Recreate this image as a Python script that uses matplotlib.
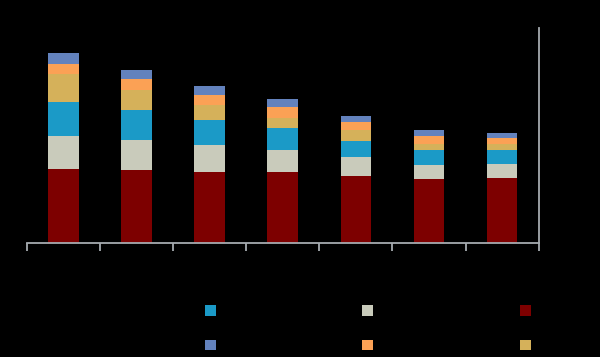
import matplotlib
matplotlib.use("Agg")
import matplotlib.pyplot as plt
from matplotlib.patches import Patch
import numpy as np

# category labels (rendered black on black in the reference)
categories = ["2014", "2015", "2016", "2017", "2018", "2019", "2020"]

# stacked segments, bottom -> top (units)
seg_red = [74.2, 73.2, 71.8, 71.2, 67.5, 64.2, 65.2]
seg_grey = [33.6, 30.0, 26.7, 22.3, 18.7, 14.7, 14.3]
seg_teal = [33.4, 30.0, 25.0, 22.3, 16.7, 14.7, 14.0]
seg_tan = [28.3, 20.0, 15.0, 9.7, 10.3, 6.3, 6.0]
seg_orange = [10.0, 11.0, 10.0, 11.3, 8.0, 8.0, 6.3]
seg_blue = [10.7, 9.3, 9.0, 7.4, 6.7, 6.0, 5.0]

series_names = ["Series 1", "Series 2", "Series 3", "Series 4", "Series 5", "Series 6"]
series = [seg_red, seg_grey, seg_teal, seg_tan, seg_orange, seg_blue]
colors = ["#7d0000", "#c9cbbb", "#1b9ac7", "#d5b15a", "#fba155", "#6382bd"]

fig = plt.figure(figsize=(6.0, 3.57), dpi=100)
fig.patch.set_facecolor("black")
ax = fig.add_axes([0.045, 0.318, 0.8527, 0.6036])
ax.set_facecolor("black")

x = np.arange(len(categories))
bottom = np.zeros(len(categories))
for vals, col, name in zip(series, colors, series_names):
    ax.bar(x, vals, width=0.42, bottom=bottom, color=col, label=name, linewidth=0)
    bottom += np.array(vals)

ax.set_xlim(-0.5, len(categories) - 0.5)
ax.set_ylim(0, 215.5)

axis_grey = "#a6abb0"
for s in ["top", "left"]:
    ax.spines[s].set_visible(False)
for s in ["bottom", "right"]:
    ax.spines[s].set_color(axis_grey)
    ax.spines[s].set_linewidth(1.3)

ax.set_xticks(np.arange(-0.5, len(categories), 1.0))
ax.set_xticklabels([])
ax.set_xticks(x, minor=True)
ax.set_xticklabels(categories, minor=True, color="black", fontsize=9)
ax.tick_params(axis="x", which="major", length=6, width=1.3, color=axis_grey, direction="out")
ax.tick_params(axis="x", which="minor", length=0, pad=8)
ax.yaxis.tick_right()
ax.tick_params(axis="y", length=0, labelcolor="black", labelsize=9)

# legend: three columns of two entries
order = [(2, 5), (1, 4), (0, 3)]
col_x = [0.342, 0.604, 0.866]
for (i, j), cx in zip(order, col_x):
    hs = [Patch(facecolor=colors[i], edgecolor="none"), Patch(facecolor=colors[j], edgecolor="none")]
    fig.legend(hs, [series_names[i], series_names[j]], loc="upper left",
               bbox_to_anchor=(cx, 0.146), frameon=False, fontsize=9,
               labelcolor="black", handlelength=0.88, handleheight=0.88,
               borderpad=0, borderaxespad=0, labelspacing=1.7, handletextpad=0.6)

fig.savefig("out.png", dpi=100, facecolor="black")
